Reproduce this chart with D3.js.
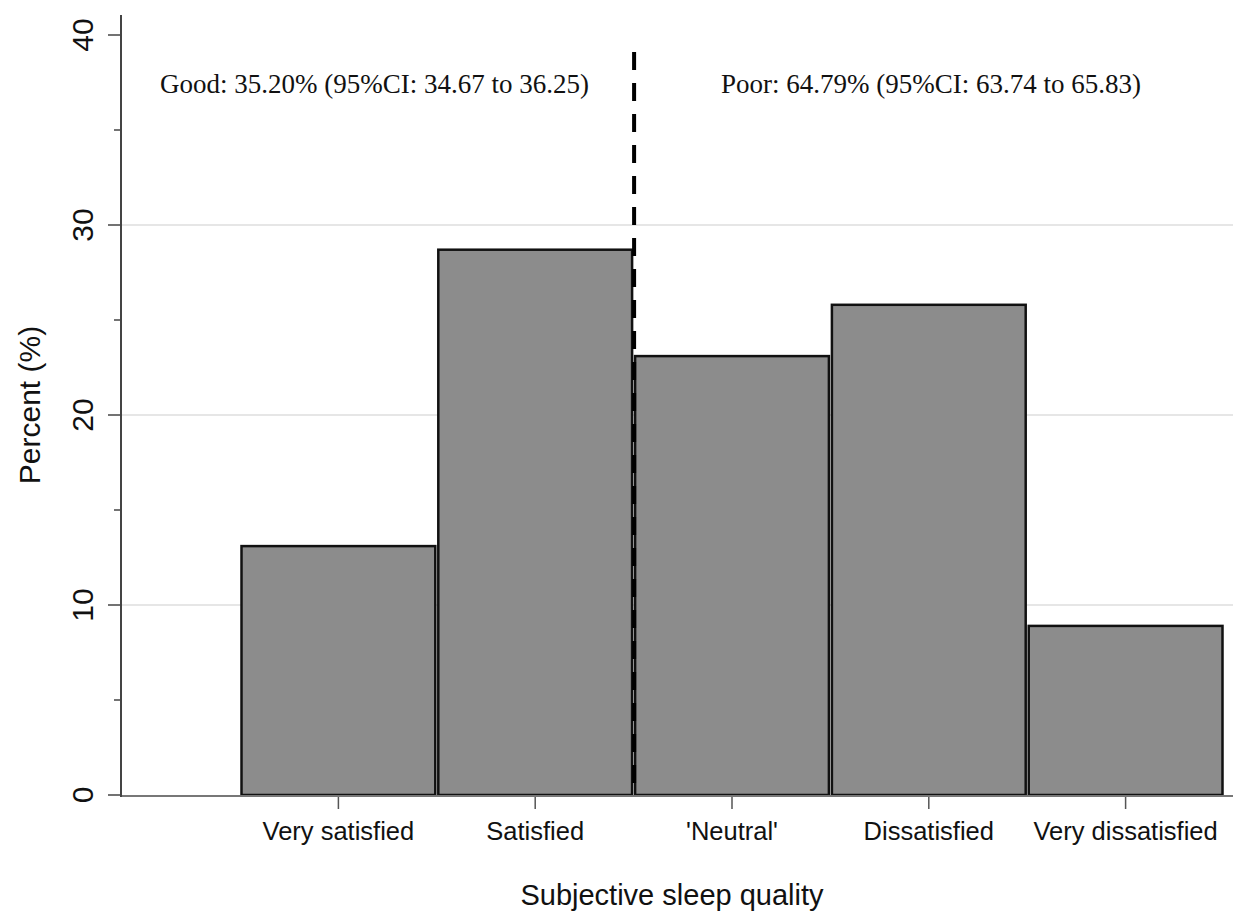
<!DOCTYPE html>
<html>
<head>
<meta charset="utf-8">
<script src="https://cdn.jsdelivr.net/npm/d3@7"></script>
<style>
  html, body { margin: 0; padding: 0; background: #fff; }
  svg { display: block; }
</style>
</head>
<body>
<div id="chart"></div>
<script>
const categories = ["Very satisfied", "Satisfied", "'Neutral'", "Dissatisfied", "Very dissatisfied"];
const percents = [13.1, 28.7, 23.1, 25.8, 8.9];
const yTicks = [0, 10, 20, 30, 40];
const yMinorTicks = [5, 15, 25, 35];
const gridValues = [10, 20, 30];
const notes = [
  "Good: 35.20% (95%CI: 34.67 to 36.25)",
  "Poor: 64.79% (95%CI: 63.74 to 65.83)"
];

const width = 1233, height = 912;
const axisX = 121;

const svg = d3.select("#chart").append("svg")
  .attr("width", width)
  .attr("height", height);

// Scales
const x = d3.scaleBand()
  .domain(categories)
  .range([240, 1224])
  .padding(0);

const y = d3.scaleLinear()
  .domain([0, 40])
  .range([795, 35]);

// Grid
svg.selectAll(".grid")
  .data(gridValues)
  .enter().append("line")
  .attr("class", "grid")
  .attr("x1", axisX).attr("x2", width)
  .attr("y1", d => y(d)).attr("y2", d => y(d))
  .style("stroke", "#e6e6e6")
  .style("stroke-width", 2);

// Bars
svg.selectAll(".bar")
  .data(percents)
  .enter().append("rect")
  .attr("class", "bar")
  .attr("x", (d, i) => x(categories[i]) + 1.5)
  .attr("y", d => y(d))
  .attr("width", x.bandwidth() - 3)
  .attr("height", d => y(0) - y(d))
  .style("fill", "#8c8c8c")
  .style("stroke", "#111")
  .style("stroke-width", 2.5);

// x axis line
svg.append("line")
  .attr("x1", axisX).attr("x2", width)
  .attr("y1", y(0) + 1).attr("y2", y(0) + 1)
  .style("stroke", "#777")
  .style("stroke-width", 2);

// y axis
const yAxis = svg.append("g")
  .attr("transform", `translate(${axisX},0)`);

yAxis.append("line")
  .attr("y1", y(41.05)).attr("y2", y(0) + 2)
  .style("stroke", "#444")
  .style("stroke-width", 2);

yAxis.selectAll(".major")
  .data(yTicks)
  .enter().append("line")
  .attr("x1", -13).attr("x2", 0)
  .attr("y1", d => y(d)).attr("y2", d => y(d))
  .style("stroke", "#444")
  .style("stroke-width", 1.5);

yAxis.selectAll(".minor")
  .data(yMinorTicks)
  .enter().append("line")
  .attr("x1", -7).attr("x2", 0)
  .attr("y1", d => y(d)).attr("y2", d => y(d))
  .style("stroke", "#444")
  .style("stroke-width", 1.5);

yAxis.selectAll(".ylabel")
  .data(yTicks)
  .enter().append("text")
  .attr("transform", d => `translate(-28,${y(d)}) rotate(-90)`)
  .style("text-anchor", "middle")
  .style("font-family", "Liberation Sans, Arial, sans-serif")
  .style("font-size", "30px")
  .style("fill", "#111")
  .text(d => d);

// x ticks & labels
const xAxis = svg.append("g");
xAxis.selectAll(".xtick")
  .data(categories)
  .enter().append("line")
  .attr("x1", d => x(d) + x.bandwidth() / 2)
  .attr("x2", d => x(d) + x.bandwidth() / 2)
  .attr("y1", y(0) + 2).attr("y2", y(0) + 14)
  .style("stroke", "#555")
  .style("stroke-width", 1.5);

xAxis.selectAll(".xlabel")
  .data(categories)
  .enter().append("text")
  .attr("x", d => x(d) + x.bandwidth() / 2)
  .attr("y", 840)
  .style("text-anchor", "middle")
  .style("font-family", "Liberation Sans, Arial, sans-serif")
  .style("font-size", "25.5px")
  .style("fill", "#111")
  .text(d => d);

// Axis titles
svg.append("text")
  .attr("x", (axisX + 1223) / 2)
  .attr("y", 905)
  .style("text-anchor", "middle")
  .style("font-family", "Liberation Sans, Arial, sans-serif")
  .style("font-size", "29px")
  .style("fill", "#111")
  .text("Subjective sleep quality");

svg.append("text")
  .attr("transform", `translate(40,${(y(41.05) + y(0)) / 2}) rotate(-90)`)
  .style("text-anchor", "middle")
  .style("font-family", "Liberation Sans, Arial, sans-serif")
  .style("font-size", "30px")
  .style("fill", "#111")
  .text("Percent (%)");

// Cut-off between good and poor
const cut = x(categories[2]) + 0.5;
svg.append("line")
  .attr("x1", cut).attr("x2", cut)
  .attr("y1", 52).attr("y2", y(0))
  .style("stroke", "#000")
  .style("stroke-width", 4)
  .style("stroke-dasharray", "18,13");

// Annotations
svg.selectAll(".note")
  .data(notes)
  .enter().append("text")
  .attr("class", "note")
  .attr("x", (d, i) => i === 0 ? 160 : 721)
  .attr("y", 93)
  .style("font-family", "Liberation Serif, Times New Roman, serif")
  .style("font-size", "27px")
  .style("fill", "#111")
  .text(d => d);
</script>
</body>
</html>
